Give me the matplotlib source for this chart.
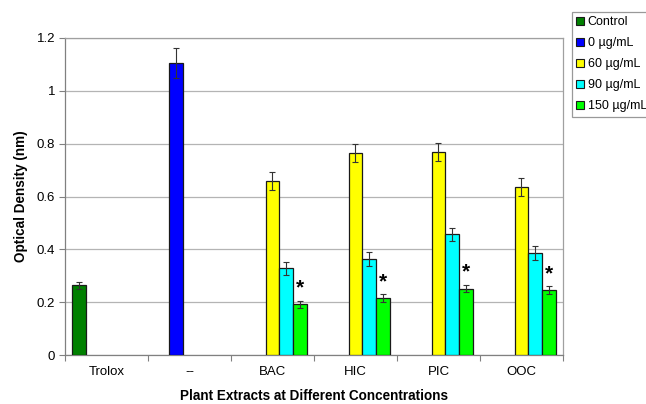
import numpy as np
import matplotlib
matplotlib.use("Agg")
import matplotlib.pyplot as plt
from matplotlib.lines import Line2D

plt.rcParams['font.family'] = ['Liberation Sans', 'DejaVu Sans']

categories = ["Trolox", "--", "BAC", "HIC", "PIC", "OOC"]
series_names = ["Control", "0 \u00b5g/mL", "60 \u00b5g/mL", "90 \u00b5g/mL", "150 \u00b5g/mL"]
colors = ["#008000", "#0000FF", "#FFFF00", "#00FFFF", "#00FF00"]
nan = np.nan
control = [0.265, nan, nan, nan, nan, nan]
conc0 = [nan, 1.106, nan, nan, nan, nan]
conc60 = [nan, nan, 0.659, 0.765, 0.768, 0.636]
conc90 = [nan, nan, 0.329, 0.363, 0.457, 0.385]
conc150 = [nan, nan, 0.193, 0.215, 0.252, 0.245]
err_control = [0.013, nan, nan, nan, nan, nan]
err_conc0 = [nan, 0.056, nan, nan, nan, nan]
err_conc60 = [nan, nan, 0.033, 0.035, 0.035, 0.034]
err_conc90 = [nan, nan, 0.025, 0.027, 0.025, 0.026]
err_conc150 = [nan, nan, 0.013, 0.015, 0.015, 0.015]
significant = [False, False, True, True, True, True]

values = [control, conc0, conc60, conc90, conc150]
errors = [err_control, err_conc0, err_conc60, err_conc90, err_conc150]

fig = plt.figure(figsize=(6.46, 4.04), dpi=100)
ax = fig.add_axes([0.1006, 0.121, 0.7709, 0.785])

x = np.arange(len(categories))
w = 1 / 6
handles = []
for i, (vals, errs) in enumerate(zip(values, errors)):
    pos = x + (i - 2) * w
    ax.bar(pos, vals, width=w, color=colors[i], edgecolor="#1a1a1a", linewidth=0.9, zorder=3)
    ax.errorbar(pos, vals, yerr=errs, fmt="none", ecolor="#333333", elinewidth=0.8,
                capsize=2.5, capthick=0.8, zorder=4)
    handles.append(Line2D([], [], marker="s", linestyle="none", markersize=6,
                          markerfacecolor=colors[i], markeredgecolor="#1a1a1a",
                          markeredgewidth=0.8, label=series_names[i]))

for j in range(len(categories)):
    if significant[j]:
        top = conc150[j] + err_conc150[j]
        ax.text(x[j] + 2 * w, top + 0.012, "*", ha="center", va="bottom",
                fontsize=15, fontweight="bold")

ax.set_xlim(-0.5, len(categories) - 0.5)
ax.set_ylim(0, 1.2)
ax.set_yticks(np.arange(0, 1.21, 0.2))
ax.set_yticklabels(["0", "0.2", "0.4", "0.6", "0.8", "1", "1.2"], fontsize=9.5)
ax.set_xticks(x)
ax.set_xticklabels(categories, fontsize=9.5)
ax.set_xticks(np.arange(-0.5, len(categories) + 0.5, 1), minor=True)
ax.tick_params(axis="x", which="major", length=0, pad=8)
ax.tick_params(axis="x", which="minor", length=4, color="#808080", width=0.8)
ax.tick_params(axis="y", length=4, color="#808080", width=0.8, pad=3)
ax.yaxis.grid(True, color="#b4b4b4", linewidth=0.9, zorder=0)
ax.set_axisbelow(True)
for s in ax.spines.values():
    s.set_color("#a0a0a0")
    s.set_linewidth(0.9)
ax.spines["left"].set_color("#808080")
ax.spines["bottom"].set_color("#808080")

ax.set_xlabel("Plant Extracts at Different Concentrations", fontsize=9.75, fontweight="bold", labelpad=8)
ax.set_ylabel("Optical Density (nm)", fontsize=9.75, fontweight="bold", labelpad=6)

leg = fig.legend(handles=handles, loc="upper left", bbox_to_anchor=(572 / 646, 1 - 12 / 404),
                 fontsize=9, frameon=True, fancybox=False, edgecolor="#808080",
                 handlelength=0.6, handletextpad=0.3, labelspacing=0.72, borderpad=0.35,
                 borderaxespad=0)
leg.get_frame().set_linewidth(0.9)

fig.savefig("out.png", dpi=100)
